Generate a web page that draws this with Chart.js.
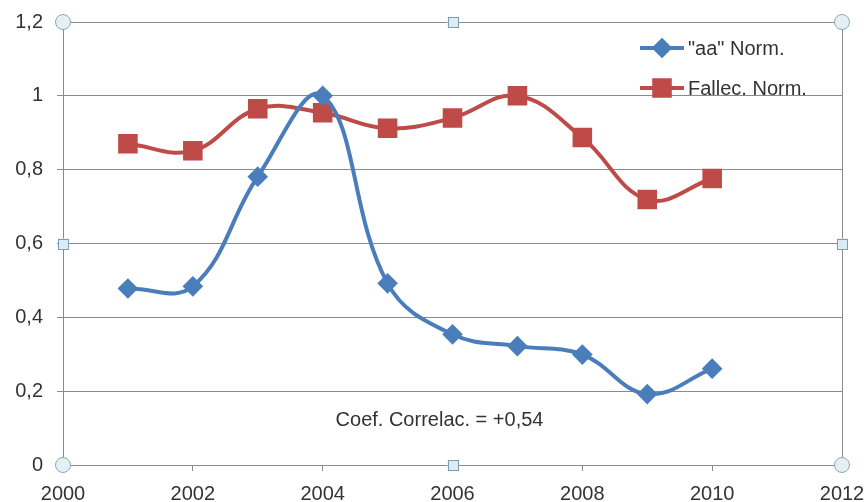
<!DOCTYPE html>
<html>
<head>
<meta charset="utf-8">
<script src="https://cdn.jsdelivr.net/npm/chart.js@4.4.1/dist/chart.umd.min.js"></script>
<style>
  html, body { margin: 0; padding: 0; background: #fff; }
  #wrap { width: 864px; height: 502px; position: relative; }
</style>
</head>
<body>
<div id="wrap"><canvas id="c"></canvas></div>
<script>
// years on x, normalised values on y
const years = [2001, 2002, 2003, 2004, 2005, 2006, 2007, 2008, 2009, 2010];
const aaNorm = [0.478, 0.484, 0.781, 1.0, 0.492, 0.354, 0.322, 0.299, 0.192, 0.261];
const fallecNorm = [0.870, 0.851, 0.965, 0.954, 0.912, 0.940, 1.0, 0.887, 0.719, 0.776];
const seriesLabels = ['"aa" Norm.', 'Fallec. Norm.'];
const xTicks = [2000, 2002, 2004, 2006, 2008, 2010, 2012];
const yTicks = [0, 0.2, 0.4, 0.6, 0.8, 1, 1.2];
const noteText = 'Coef. Correlac. = +0,54';

const FONT = 'Liberation Sans, Arial, sans-serif';
const TXT = '#333333';
const GRID = '#8a8a8a';
const BLUE = '#4a7ebb';
const RED = '#be4b48';

const pts = vals => years.map((y, i) => ({ x: y, y: vals[i] }));
const fmt = v => String(Math.round(v * 10) / 10).replace('.', ',');

// frame, excel-style selection handles, legend, note
const decor = {
  id: 'decor',
  afterDraw(chart) {
    const { ctx, chartArea: a, scales } = chart;
    ctx.save();
    ctx.strokeStyle = GRID;
    ctx.lineWidth = 1;
    ctx.beginPath();
    ctx.moveTo(a.left, a.top + 0.5); ctx.lineTo(a.right + 0.5, a.top + 0.5);
    ctx.lineTo(a.right + 0.5, a.bottom);
    ctx.stroke();

    // legend inside the plot, top right
    chart.data.datasets.forEach((ds, i) => {
      const y = a.top + 26 + i * 40;
      const x0 = a.right - 202;
      ctx.strokeStyle = ds.borderColor;
      ctx.lineWidth = 4;
      ctx.beginPath(); ctx.moveTo(x0, y); ctx.lineTo(x0 + 44, y); ctx.stroke();
      Chart.helpers.drawPoint(ctx, {
        pointStyle: ds.pointStyle, radius: ds.pointRadius, borderWidth: 1
      }, x0 + 22, y);
      ctx.fillStyle = ds.pointBackgroundColor;
      ctx.fill();
      ctx.fillStyle = TXT;
      ctx.font = '20px ' + FONT;
      ctx.textAlign = 'left';
      ctx.textBaseline = 'middle';
      ctx.fillText(ds.label, x0 + 48, y + 1);
    });

    // correlation note
    ctx.fillStyle = TXT;
    ctx.font = '20px ' + FONT;
    ctx.textAlign = 'center';
    ctx.textBaseline = 'middle';
    ctx.fillText(noteText, scales.x.getPixelForValue(2005.8), scales.y.getPixelForValue(0.12));

    // handles
    const mx = (a.left + a.right) / 2, my = (a.top + a.bottom) / 2;
    ctx.lineWidth = 1;
    ctx.strokeStyle = '#8fa7b8';
    ctx.fillStyle = '#e4f0f4';
    [[a.left, a.top], [a.right, a.top], [a.left, a.bottom], [a.right, a.bottom]].forEach(([x, y]) => {
      ctx.beginPath(); ctx.arc(x, y, 7.5, 0, Math.PI * 2); ctx.fill(); ctx.stroke();
    });
    ctx.fillStyle = '#dbecf5';
    ctx.strokeStyle = '#7f9cb5';
    [[mx, a.top], [mx, a.bottom], [a.left, my], [a.right, my]].forEach(([x, y]) => {
      ctx.fillRect(x - 5, y - 5, 11, 11);
      ctx.strokeRect(Math.round(x - 5) + 0.5, Math.round(y - 5) + 0.5, 10, 10);
    });
    ctx.restore();
  }
};

new Chart(document.getElementById('c'), {
  type: 'line',
  data: {
    datasets: [
      { label: seriesLabels[0], data: pts(aaNorm), borderColor: BLUE, backgroundColor: BLUE,
        pointBackgroundColor: BLUE, pointBorderColor: BLUE, pointStyle: 'rectRot', pointRadius: 7.5,
        borderWidth: 4, tension: 0.4 },
      { label: seriesLabels[1], data: pts(fallecNorm), borderColor: RED, backgroundColor: RED,
        pointBackgroundColor: RED, pointBorderColor: RED, pointStyle: 'rect', pointRadius: 11,
        borderWidth: 4, tension: 0.4 }
    ]
  },
  options: {
    responsive: true,
    maintainAspectRatio: false,
    animation: false,
    layout: { padding: { top: 22, right: 22, left: 0, bottom: 0 } },
    plugins: { legend: { display: false }, tooltip: { enabled: false } },
    scales: {
      x: {
        type: 'linear', min: 2000, max: 2012,
        afterBuildTicks: s => { s.ticks = xTicks.map(v => ({ value: v })); },
        afterFit: s => { s.height = 37; s.paddingLeft = 0; s.paddingRight = 0; },
        border: { color: GRID, width: 1 },
        grid: { drawOnChartArea: false, drawTicks: true, tickLength: 6, color: GRID },
        ticks: { color: TXT, font: { family: FONT, size: 20 }, padding: 11, maxRotation: 0,
                 callback: v => String(v) }
      },
      y: {
        min: 0, max: 1.2,
        afterBuildTicks: s => { s.ticks = yTicks.map(v => ({ value: v })); },
        afterFit: s => { s.width = 63; s.paddingTop = 0; s.paddingBottom = 0; },
        border: { color: GRID, width: 1 },
        grid: { color: GRID, tickLength: 6 },
        ticks: { color: TXT, font: { family: FONT, size: 20 }, padding: 14, callback: v => fmt(v) }
      }
    }
  },
  plugins: [decor]
});
</script>
</body>
</html>
